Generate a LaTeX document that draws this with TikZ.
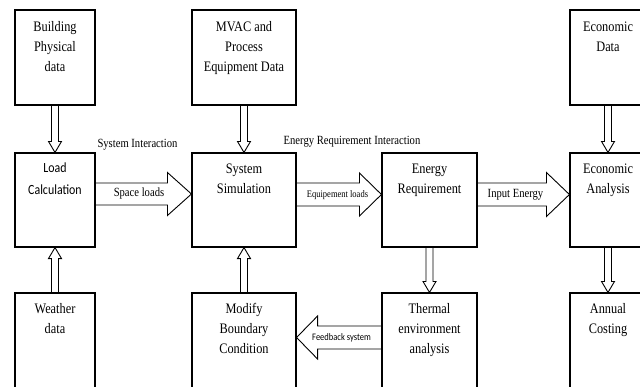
\documentclass[tikz,border=0pt]{standalone}
\usepackage{fontspec}
\setmainfont[FakeStretch=0.85]{Liberation Serif}
\newfontfamily\calibfont[FakeStretch=0.85]{Carlito}
\usetikzlibrary{calc}
\tikzset{
  box/.style={draw, line width=1.1pt, inner sep=0pt},
  txt/.style={align=center, inner sep=0pt, anchor=north, font=\fontsize{14.5}{20}\selectfont},
  sanstxt/.style={align=center, inner sep=0pt, anchor=north, font=\calibfont\fontsize{14}{22}\selectfont},
  lbl/.style={inner sep=0pt, font=\fontsize{12.5}{14}\selectfont},
  lblsmall/.style={inner sep=0pt, font=\fontsize{10}{12}\selectfont},
  fblbl/.style={inner sep=0pt, font=\calibfont\fontsize{10}{12}\selectfont},
  arrowline/.style={draw, line width=0.9pt, line join=miter}
}
\newcommand\hollowarrow[5]{%
  \coordinate (hA) at (#1);
  \coordinate (hB) at (#2);
  \coordinate (hH) at ($(hB)!#5!(hA)$);
  \draw[arrowline] ($(hA)!#3!90:(hB)$) -- ($(hH)!#3!-90:(hA)$) -- ($(hH)!#4!-90:(hA)$) -- (hB)
     -- ($(hH)!#4!90:(hA)$) -- ($(hH)!#3!90:(hA)$) -- ($(hA)!#3!-90:(hB)$);
}
\begin{document}
\begin{tikzpicture}[x=1pt,y=-1pt]
\fill[white] (0,0) rectangle (640,386);
\clip (0,0) rectangle (640,386);
% row 1
\node[box, minimum width=80pt, minimum height=95pt] (bpd) at (55,57.5) {};
\node[box, minimum width=104pt, minimum height=95pt] (mv) at (244,57.5) {};
\node[box, minimum width=76pt, minimum height=95pt] (ed) at (608,57.5) {};
% row 2
\node[box, minimum width=80pt, minimum height=94pt] (lc) at (55,200) {};
\node[box, minimum width=104pt, minimum height=94pt] (ss) at (244,200) {};
\node[box, minimum width=95pt, minimum height=94pt] (er) at (429.5,200) {};
\node[box, minimum width=76pt, minimum height=94pt] (ea) at (608,200) {};
% row 3
\node[box, minimum width=80pt, minimum height=107pt] (wd) at (55,346.5) {};
\node[box, minimum width=104pt, minimum height=107pt] (mb) at (244,346.5) {};
\node[box, minimum width=95pt, minimum height=107pt] (te) at (429.5,346.5) {};
\node[box, minimum width=76pt, minimum height=107pt] (ac) at (608,346.5) {};
% texts
\node[txt] (tbpd) at ([yshift=-12pt]bpd.north) {Building\\Physical\\data};
\node[txt] (tmv) at ([yshift=-12pt]mv.north) {MVAC and\\Process\\Equipment Data};
\node[txt] (ted) at ([yshift=-12pt]ed.north) {Economic\\Data};
\node[sanstxt] (tlc) at ([yshift=-10.5pt]lc.north) {Load\\Calculation};
\node[txt] (tss) at ([yshift=-11pt]ss.north) {System\\Simulation};
\node[txt] (ter) at ([yshift=-11pt]er.north) {Energy\\Requirement};
\node[txt] (tea) at ([yshift=-11pt]ea.north) {Economic\\Analysis};
\node[txt] (twd) at ([yshift=-11pt]wd.north) {Weather\\data};
\node[txt] (tmb) at ([yshift=-11pt]mb.north) {Modify\\Boundary\\Condition};
\node[txt] (tte) at ([yshift=-11pt]te.north) {Thermal\\environment\\analysis};
\node[txt] (tac) at ([yshift=-11pt]ac.north) {Annual\\Costing};
% vertical arrows
\hollowarrow{bpd.south}{lc.north}{3.5pt}{6.5pt}{11pt}
\hollowarrow{wd.north}{lc.south}{3.5pt}{6.5pt}{11pt}
\hollowarrow{mv.south}{ss.north}{3.5pt}{6.5pt}{11pt}
\hollowarrow{mb.north}{ss.south}{3.5pt}{6.5pt}{11pt}
\hollowarrow{er.south}{te.north}{3.5pt}{6.5pt}{11pt}
\hollowarrow{ed.south}{ea.north}{3.5pt}{6.5pt}{11pt}
\hollowarrow{ea.south}{ac.north}{3.5pt}{6.5pt}{11pt}
% horizontal arrows
\hollowarrow{[yshift=6pt]lc.east}{[yshift=6pt]ss.west}{11pt}{21.5pt}{24pt}
\hollowarrow{[yshift=5.5pt]ss.east}{[yshift=5.5pt]er.west}{11.5pt}{21.5pt}{22pt}
\hollowarrow{[yshift=5.5pt]er.east}{[yshift=5.5pt]ea.west}{11.5pt}{22pt}{23pt}
\hollowarrow{[yshift=9pt]te.west}{[yshift=9pt]mb.east}{11.5pt}{21.5pt}{21pt}
% labels
\node[lbl] (si) at (137.5,145) {System Interaction};
\node[lbl] (eri) at (352,141.5) {Energy Requirement Interaction};
\node[lbl] (sl) at (139,193.5) {Space loads};
\node[lblsmall] (el) at (337.5,195.5) {Equipement loads};
\node[lbl] (ie) at (515.5,195) {Input Energy};
\node[fblbl] (fs) at (341.5,337.5) {Feedback system};
\end{tikzpicture}
\end{document}
